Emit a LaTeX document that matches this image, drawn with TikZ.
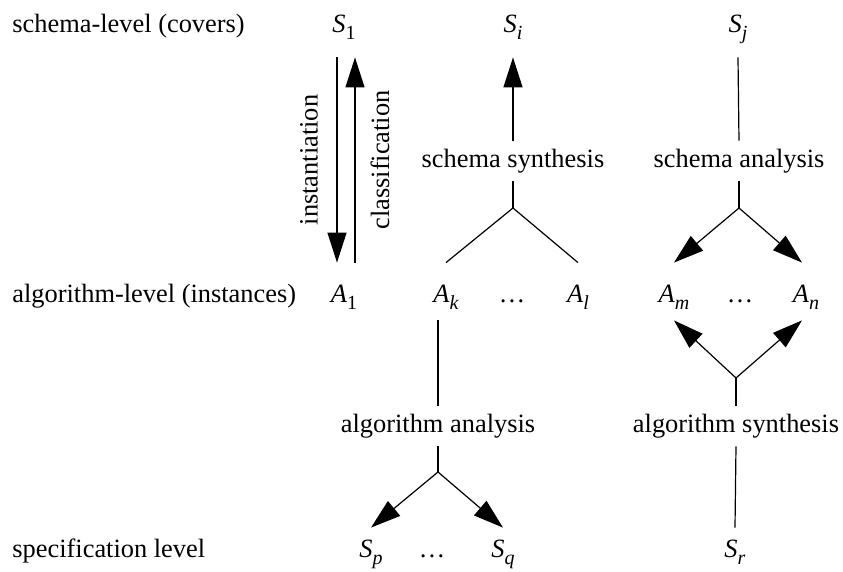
\documentclass[tikz,border=0pt]{standalone}
\usepackage{fontspec}
\setmainfont{Liberation Serif}
\usetikzlibrary{arrows.meta}
\newcommand{\symsub}[2]{\textit{#1}\raisebox{-0.5ex}{\fontsize{10pt}{10pt}\selectfont #2}}

\begin{document}
\begin{tikzpicture}[
    x=0.5pt, y=-0.5pt,
    font=\fontsize{13.2pt}{16pt}\selectfont,
    level/.style={anchor=base west, inner sep=0pt},
    covrow/.style={anchor=base, inner sep=0pt, text depth=12pt},
    instrow/.style={anchor=base, inner sep=0pt, text height=20pt, text depth=8.5pt},
    specrow/.style={anchor=base, inner sep=0pt, text height=15pt},
    process/.style={anchor=base, inner sep=0pt, text height=13.5pt, text depth=6.5pt},
    link/.style={line width=0.6pt},
    arr/.style={link, -{Triangle[length=15pt, width=9.5pt]}},
]
\useasboundingbox (0,0) rectangle (843,572);

% Level labels.
\node[level] (lcov)  at (12,33)  {schema-level (covers)};
\node[level] (linst) at (12,303) {algorithm-level (instances)};
\node[level] (lspec) at (12,558) {specification level};

% Schema level.
\node[covrow] (S1) at (344,33) {\symsub{S}{1}};
\node[covrow] (Si) at (513,33) {\symsub{S}{\textit{i}}};
\node[covrow] (Sj) at (738,33) {\symsub{S}{\textit{j}}};

% Algorithm level.
\node[instrow] (A1) at (344,303) {\symsub{A}{1}};
\node[instrow] (Ak) at (446,303) {\symsub{A}{\textit{k}}};
\node[instrow] (dk) at (512,303) {\ldots};
\node[instrow] (Al) at (578,303) {\symsub{A}{\textit{l}}};
\node[instrow] (Am) at (674,303) {\symsub{A}{\textit{m}}};
\node[instrow] (dm) at (740,303) {\ldots};
\node[instrow] (An) at (806,303) {\symsub{A}{\textit{n}}};

% Specification level.
\node[specrow] (Sp) at (371,558) {\symsub{S}{\textit{p}}};
\node[specrow] (dp) at (432,558) {\ldots};
\node[specrow] (Sq) at (503,558) {\symsub{S}{\textit{q}}};
\node[specrow] (Sr) at (735,558) {\symsub{S}{\textit{r}}};

% Operations.
\node[process] (ssyn) at (513,168) {schema synthesis};
\node[process] (sana) at (739,168) {schema analysis};
\node[process] (aana) at (438,433) {algorithm analysis};
\node[process] (asyn) at (736,433) {algorithm synthesis};

% Branch points.
\coordinate (bss) at (513,208);
\coordinate (bsa) at (739,208);
\coordinate (baa) at (438,472);
\coordinate (bas) at (736,378);

% Instantiation / classification.
\draw[arr] ([xshift=-3.5pt]S1.south) -- ([xshift=-3.5pt]A1.north);
\draw[arr] ([xshift=5.5pt]A1.north) -- ([xshift=5.5pt]S1.south);
\node[rotate=90] (inst)  at (309,160) {instantiation};
\node[rotate=90] (class) at (380,160) {classification};

% Schema synthesis.
\draw[arr]  (ssyn.north) -- (Si.south);
\draw[link] (ssyn.south) -- (bss);
\draw[link] (bss) -- (Ak.north);
\draw[link] (bss) -- (Al.north);

% Schema analysis.
\draw[link] (Sj.south) -- (sana.north);
\draw[link] (sana.south) -- (bsa);
\draw[arr]  (bsa) -- (Am.north);
\draw[arr]  (bsa) -- ([xshift=-2pt]An.north);

% Algorithm analysis.
\draw[link] (Ak.south -| aana.north) -- (aana.north);
\draw[link] (aana.south) -- (baa);
\draw[arr]  (baa) -- (Sp.north);
\draw[arr]  (baa) -- (Sq.north);

% Algorithm synthesis.
\draw[link] (Sr.north) -- (asyn.south);
\draw[link] (asyn.north) -- (bas);
\draw[arr]  (bas) -- (Am.south);
\draw[arr]  (bas) -- ([xshift=-2pt]An.south);
\end{tikzpicture}
\end{document}
